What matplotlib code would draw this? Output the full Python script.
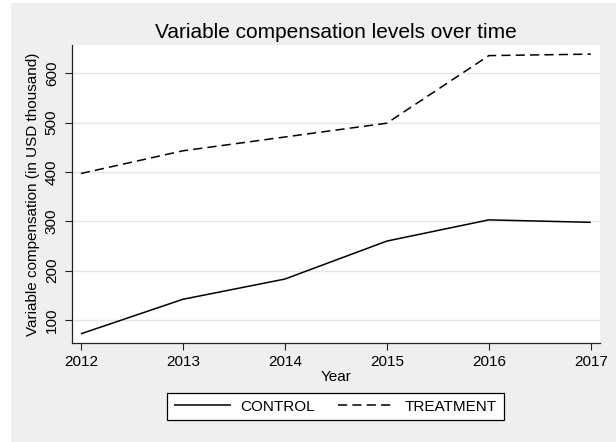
import matplotlib
matplotlib.use("Agg")
import matplotlib.pyplot as plt
from matplotlib.patches import Rectangle

years = [2012, 2013, 2014, 2015, 2016, 2017]
control = [72, 142, 183, 260, 303, 298]
treatment = [397, 443, 471, 499, 636, 639]
yticks = [100, 200, 300, 400, 500, 600]
title = "Variable compensation levels over time"
ylabel = "Variable compensation (in USD thousand)"
xlabel = "Year"
series_names = ["CONTROL", "TREATMENT"]

plt.rcParams['font.family'] = ['Liberation Sans', 'DejaVu Sans']

W, H = 616, 442
fig = plt.figure(figsize=(W / 100, H / 100), dpi=100)
fig.patch.set_facecolor('white')
bg = '#EFEFEF'
fig.patches.append(Rectangle((11 / W, 0), 1 - 11 / W, 1 - 3 / H, transform=fig.transFigure,
                             facecolor=bg, edgecolor='none', zorder=-10))

L, R, T, B = 71.7, 600, 45, 342.7
ax = fig.add_axes([L / W, 1 - B / H, (R - L) / W, (B - T) / H])
ax.set_facecolor('white')

lw = 1.1
ax.plot(years, control, color='black', lw=lw, label=series_names[0], solid_capstyle='butt')
ax.plot(years, treatment, color='black', lw=lw, ls=(0, (6.0, 3.4)), label=series_names[1],
        dash_capstyle='butt')

ax.set_xlim(2011.91, 2017.09)
ax.set_ylim(54, 657.5)
ax.set_xticks(years)
ax.set_yticks(yticks)
ax.set_yticklabels([str(v) for v in yticks], rotation=90, va='center')
ax.grid(axis='y', color='#E6E6E6', lw=1.0)
ax.set_axisbelow(True)
for s in ['top', 'right']:
    ax.spines[s].set_visible(False)
for s in ['left', 'bottom']:
    ax.spines[s].set_color('#222222')
    ax.spines[s].set_linewidth(0.9)
ax.tick_params(axis='y', length=5, width=0.8, pad=4.3, labelsize=11, color='#222222')
ax.tick_params(axis='x', length=5, width=0.8, pad=3.8, labelsize=11, color='#222222')

ax.set_xlabel(xlabel, fontsize=11, labelpad=1)
ax.set_ylabel(ylabel, fontsize=11, labelpad=3.5)
ax.set_title(title, fontsize=15, pad=5.3)

leg = fig.legend(loc='center', bbox_to_anchor=(335.5 / W, 1 - 406.6 / H), ncol=2,
                 fontsize=11, frameon=True, fancybox=False, handlelength=3.7,
                 handletextpad=0.65, columnspacing=1.5, borderpad=0.45)
leg.get_frame().set_edgecolor('black')
leg.get_frame().set_linewidth(0.9)
leg.get_frame().set_facecolor('white')
leg.get_frame().set_alpha(1)

fig.savefig('out.png', dpi=100, facecolor=fig.get_facecolor())
